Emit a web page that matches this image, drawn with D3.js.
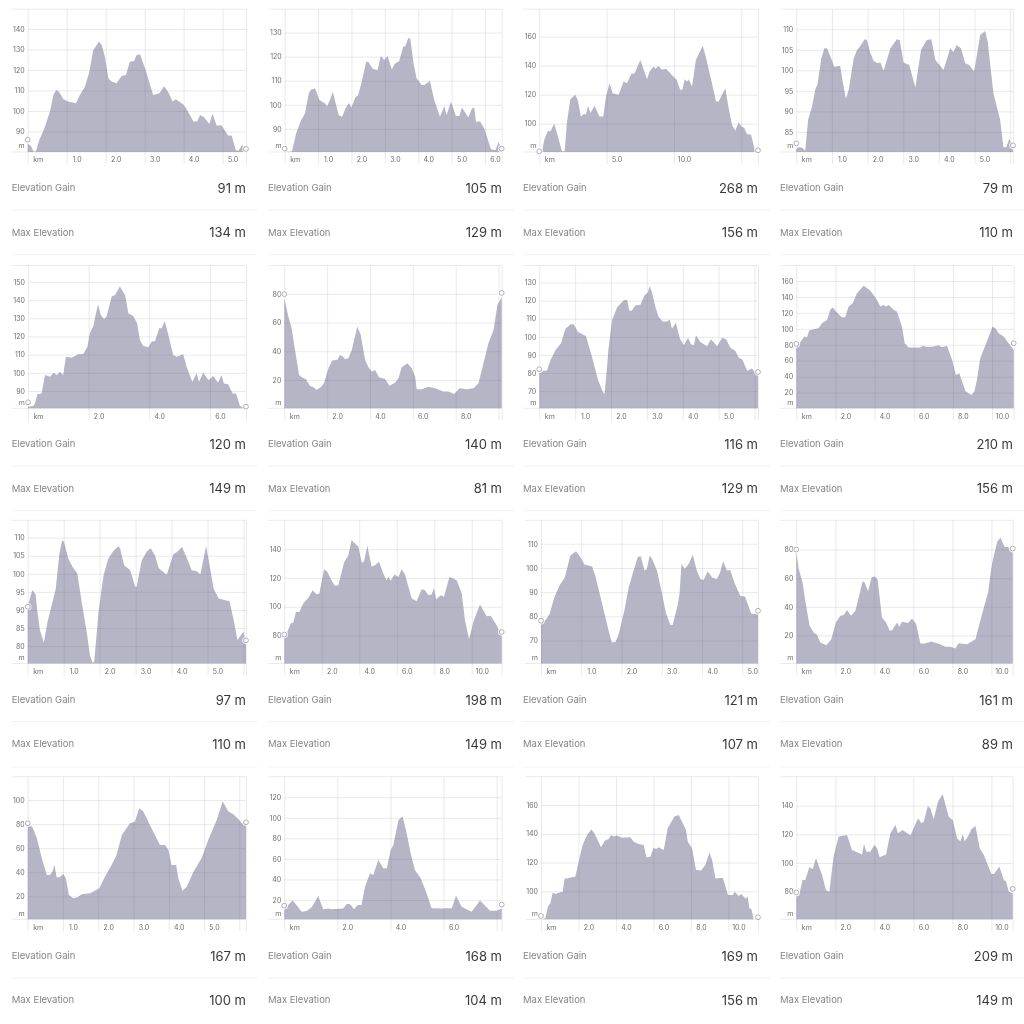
<!DOCTYPE html>
<html>
<head>
<meta charset="utf-8">
<script src="https://cdn.jsdelivr.net/npm/d3@7"></script>
<style>
  html, body { margin: 0; padding: 0; background: #fff; }
  svg { display: block; font-family: Inter, "Noto Sans", sans-serif; filter: blur(0.5px); }
  .grid line, .grid path { stroke: rgba(90, 90, 125, 0.13); stroke-width: 1; }
  .grid path { display: none; }
  .tick text { fill: #6d6d72; font-size: 7px; font-family: Inter, sans-serif; }
</style>
</head>
<body>
<svg id="chart" width="1024" height="1024"></svg>
<script>
// [km, elevation in m]
var profile1 = [[0,84],[.08,83],[.15,80.3],[.21,80.3],[.3,86],[.43,91.6],[.57,99.7],[.66,107.8],[.73,110.2],[.8,109.4],[.92,105.7],[1.04,104.6],[1.24,103.8],[1.34,107.8],[1.47,111.9],[1.58,119],[1.68,129.6],[1.83,133.9],[1.9,132],[1.98,126.4],[2.07,116],[2.15,114.4],[2.28,113.5],[2.41,117],[2.52,117.5],[2.62,124],[2.73,124.3],[2.79,127.2],[2.88,127.7],[3.01,120.8],[3.14,112.7],[3.22,107.8],[3.38,108.6],[3.5,112],[3.61,109],[3.72,104.6],[3.8,105.7],[4,103],[4.09,100.5],[4.25,94.9],[4.35,94.9],[4.42,98],[4.52,97],[4.66,93.6],[4.74,98.6],[4.85,92.8],[4.97,93],[5.14,88],[5.23,88],[5.34,80.8],[5.41,80.6],[5.5,83.5],[5.6,80.8]];
var profile2 = [[0,81.1],[.14,80.4],[.22,80.8],[.34,88],[.49,93.6],[.61,96.4],[.72,104.7],[.79,106.4],[.91,106.8],[1.04,102],[1.19,100.8],[1.27,99.4],[1.36,102.2],[1.44,105.4],[1.54,99.9],[1.62,95.7],[1.72,95],[1.82,98.5],[1.92,100.8],[2,98.9],[2.11,102.9],[2.2,104],[2.32,110.3],[2.44,117.9],[2.5,117.9],[2.63,115.1],[2.78,114.4],[2.88,120.3],[2.98,118.6],[3.08,120.3],[3.21,114.7],[3.29,116.9],[3.43,118.2],[3.55,124.2],[3.61,124.2],[3.7,127.6],[3.76,127.6],[3.86,117.2],[3.95,111],[4.1,108.2],[4.18,108.2],[4.35,109.9],[4.48,102],[4.65,95],[4.78,99.4],[4.85,95.7],[4.98,101.3],[5.13,95.4],[5.23,95.4],[5.31,98.9],[5.5,94.7],[5.61,98.5],[5.68,98.8],[5.73,92.9],[5.85,93.2],[5.98,90.1],[6.18,81.5],[6.31,81.1],[6.41,84.6],[6.5,81.1]];
var profile3 = [[0,80.5],[.2,80.5],[.37,89],[.64,95.2],[.82,94.7],[1.11,100],[1.31,93.6],[1.68,81],[1.88,81],[2.05,100.5],[2.3,116.9],[2.67,119.9],[2.85,116.5],[3.09,105],[3.34,106.9],[3.47,106.2],[3.61,112.4],[3.79,107.3],[4.11,112.4],[4.46,105],[4.75,105],[4.95,118.8],[5.22,127.9],[5.45,121],[5.89,119.9],[6.26,129],[6.51,127.9],[6.83,134.3],[7.08,134.8],[7.5,143.9],[8,130.7],[8.19,135.9],[8.49,139.4],[8.61,137.8],[8.86,139.8],[9.1,137.1],[9.41,137.8],[9.85,133.6],[10.2,130.2],[10.47,123.3],[10.64,123.8],[10.79,130.7],[10.97,129.1],[11.09,130.7],[11.34,125.6],[11.63,143.9],[12.13,153.8],[12.33,147.4],[12.82,127.9],[13.12,115.3],[13.32,115.3],[13.81,124.5],[14.06,110.8],[14.31,99.3],[14.55,95.2],[14.8,100.9],[15,98.2],[15.22,97],[15.42,92.9],[15.72,92.4],[15.97,83.3],[16.04,80.5],[16.24,80.5]];
var profile4 = [[0,80.9],[.08,81.3],[.18,81.1],[.25,80.4],[.33,87.9],[.44,91.1],[.53,95.2],[.6,96.8],[.7,102.9],[.79,105.4],[.86,105.4],[.98,102.9],[1.06,100.9],[1.23,101.1],[1.28,98.4],[1.39,93.1],[1.47,95.2],[1.61,102.9],[1.7,104.9],[1.79,105.9],[1.92,107.6],[1.98,107.4],[2.07,104.5],[2.17,102.3],[2.29,101.7],[2.36,101.9],[2.45,99.9],[2.64,105.4],[2.82,107.6],[2.9,107.4],[3.01,101.9],[3.17,101.3],[3.34,95.8],[3.5,105],[3.66,107.4],[3.79,107.6],[3.9,102.5],[4.04,101.1],[4.13,100.1],[4.32,105.4],[4.41,104.5],[4.5,106.2],[4.62,105.4],[4.74,101.7],[4.85,101.3],[4.99,99.7],[5.16,108.6],[5.3,109.6],[5.37,107],[5.53,94.4],[5.72,87.9],[5.81,81.3],[5.89,81.2],[5.98,83.4],[6.08,80.5]];
var profile5 = [[0,81.4],[.18,81.7],[.23,83.2],[.31,88.2],[.45,88.7],[.56,98.8],[.73,97.9],[.84,100.1],[.95,98.8],[1.05,100.6],[1.16,98.8],[1.25,108.9],[1.44,108.3],[1.66,110.2],[1.82,110.4],[1.96,114.4],[2.04,121.7],[2.15,125.4],[2.23,131.8],[2.31,137.7],[2.4,131.8],[2.51,129.6],[2.59,130.9],[2.76,141.9],[2.87,142.8],[3.03,147.4],[3.2,142.8],[3.31,132.8],[3.47,131.3],[3.6,127.2],[3.69,118.1],[3.8,114.8],[3.97,114],[4.08,117.2],[4.19,117.5],[4.33,124.5],[4.41,124.5],[4.51,128.5],[4.63,120.8],[4.79,109.8],[4.9,108.9],[5.12,110.2],[5.23,103.4],[5.42,95.1],[5.56,99.7],[5.64,95.1],[5.78,100.1],[5.95,96.1],[6.11,98.3],[6.27,94.6],[6.38,98.8],[6.46,94.2],[6.6,93.7],[6.75,88.7],[6.86,88.7],[6.99,81.7],[7.19,80.5]];
var profile6 = [[0,77],[.19,64.2],[.34,56],[.5,40.9],[.69,23.5],[.81,21.9],[1.01,20.5],[1.2,15.8],[1.36,14.9],[1.51,13],[1.7,14.9],[1.85,17.7],[2.06,28.1],[2.24,33.5],[2.48,34],[2.6,37.4],[2.73,36.3],[2.84,34.4],[2.99,35.1],[3.15,40.9],[3.41,57.2],[3.57,51.4],[3.77,34],[3.93,28.8],[4.08,25.8],[4.24,27],[4.42,21.9],[4.7,20.7],[4.91,16],[5.17,18.1],[5.33,21.2],[5.48,28.8],[5.75,31.6],[5.95,28.1],[6.11,22.3],[6.18,13.5],[6.42,13.5],[6.73,15.3],[7.04,14.2],[7.43,11.9],[7.66,11.9],[7.93,10.2],[8.18,14.2],[8.52,13.5],[8.83,14.2],[9.07,17.7],[9.3,31.6],[9.53,45.6],[9.77,54.9],[9.95,72.3],[10.15,77.7]];
var profile7 = [[0,79.7],[.09,81.2],[.21,81.2],[.31,87.1],[.45,92.6],[.61,96.6],[.73,104.5],[.87,106.9],[.96,106.9],[1.08,102.7],[1.3,100.5],[1.47,88.9],[1.64,76.1],[1.77,69.6],[1.82,68.3],[1.89,83.4],[1.93,93.5],[2.03,109.1],[2.17,116.4],[2.35,120.1],[2.45,120.5],[2.51,114.6],[2.57,114.2],[2.68,117.3],[2.82,117.7],[2.93,122.8],[3.02,124.3],[3.08,128],[3.14,124.7],[3.24,116.4],[3.33,110.9],[3.44,108.5],[3.56,108.5],[3.64,109.4],[3.7,104.5],[3.81,107.8],[3.92,99],[4.03,95.3],[4.15,99.5],[4.23,95.9],[4.31,95.3],[4.37,100.8],[4.49,97.2],[4.68,94.8],[4.79,98.6],[4.96,94.8],[5.1,99.5],[5.21,98.6],[5.33,94],[5.47,92.2],[5.56,88.5],[5.66,87.4],[5.8,81.2],[5.93,82.5],[6.1,78.8]];
var profile8 = [[0,76.9],[.2,82.8],[.41,90.3],[.55,89.5],[.66,97.8],[.89,99.5],[1.14,100.8],[1.31,107],[1.57,111.2],[1.74,123.8],[1.86,126.7],[2.08,120.4],[2.33,114.6],[2.5,114.6],[2.67,127.9],[2.88,132.1],[3.1,144.7],[3.44,153.9],[3.78,148],[4.12,136.3],[4.29,127.9],[4.46,130],[4.58,127.9],[4.72,130],[4.97,123.8],[5.14,121.7],[5.4,102.8],[5.54,81.9],[5.74,76.5],[6.34,76.5],[6.47,78.6],[6.68,77.3],[7.02,77.7],[7.27,79.4],[7.44,76.9],[7.7,78.6],[7.96,61],[8.16,42.2],[8.33,44.3],[8.64,22.1],[8.94,17.1],[9.1,21.3],[9.23,35.9],[9.4,63.1],[9.74,84],[10.03,102.8],[10.17,100.8],[10.34,94.5],[10.6,90.3],[10.85,81.9],[11.11,73.6]];
var profile9 = [[0,90.9],[.06,93.2],[.13,95.5],[.22,94.3],[.27,89.5],[.34,84.4],[.45,81],[.55,86.7],[.69,92.2],[.78,95.9],[.88,105.6],[.96,109.3],[1.01,108.8],[1.13,104.2],[1.25,101.9],[1.38,100.1],[1.5,92.2],[1.64,84],[1.73,77.5],[1.8,75.5],[1.85,75.7],[1.97,89.5],[2.11,99.6],[2.24,104.2],[2.38,106.3],[2.52,107.6],[2.57,107],[2.68,102.4],[2.85,101],[2.99,96.4],[3.03,96.4],[3.17,103.7],[3.31,106.2],[3.42,107.1],[3.54,105.1],[3.64,101.6],[3.82,100.1],[3.87,99.8],[4.05,105.4],[4.15,106],[4.29,107.4],[4.41,104.7],[4.56,101],[4.7,100.7],[4.8,99.8],[4.96,107.7],[5.05,102.8],[5.17,95.9],[5.31,93.2],[5.4,93],[5.49,92.7],[5.61,92.4],[5.74,86.7],[5.83,81.7],[6,84],[6.07,81.2]];
var profile10 = [[0,77.9],[.16,82.5],[.34,88.3],[.48,89],[.62,96.4],[.8,96.4],[1.01,102.2],[1.28,106.2],[1.51,111.5],[1.73,108.5],[1.87,109.2],[2.12,126.1],[2.3,124.2],[2.53,118],[2.7,114.5],[2.88,115],[3.19,130.7],[3.42,135.8],[3.59,146.2],[3.95,141.6],[4.13,130.7],[4.25,131.2],[4.43,142.3],[4.66,127.7],[4.84,128.8],[5.05,131.2],[5.28,123.1],[5.46,118.4],[5.55,120.7],[5.68,118],[5.87,122.4],[6.09,120.7],[6.26,126.1],[6.44,122.4],[6.62,113.8],[6.8,105.7],[7.06,103.8],[7.33,112.2],[7.51,111.5],[7.69,108],[7.86,108.5],[7.99,113.1],[8.1,105.2],[8.36,108],[8.52,106.9],[8.81,120.7],[9.2,118.4],[9.47,109.2],[9.64,90.6],[9.86,77.5],[10.09,89.5],[10.44,101.5],[10.8,93.4],[11.01,93.7],[11.33,87.2],[11.6,80.2]];
var profile11 = [[0,77.5],[.11,78.4],[.21,80.9],[.33,87.8],[.46,92.7],[.59,96.1],[.73,105.1],[.87,106.9],[.98,104.4],[1.08,101.4],[1.27,100.6],[1.35,96.8],[1.45,89.9],[1.56,82.3],[1.68,74],[1.76,69.2],[1.85,69.4],[1.93,72.6],[2.07,82.3],[2.18,92],[2.3,98.9],[2.41,104.7],[2.48,104.7],[2.57,98.9],[2.63,99.6],[2.7,105.1],[2.76,103.7],[2.88,98.9],[3,89.9],[3.1,81.6],[3.21,76.4],[3.27,76.4],[3.39,84.4],[3.44,89.2],[3.49,101.7],[3.57,99.6],[3.67,101.7],[3.77,105.5],[3.87,98.9],[3.96,95.4],[4.04,95],[4.14,98.6],[4.25,96.1],[4.37,95.4],[4.45,98.2],[4.52,102.8],[4.62,98.9],[4.7,99.2],[4.81,93.7],[4.95,88.5],[5.07,88.1],[5.22,81.2],[5.39,80.9]];
var profile12 = [[0,78.2],[.12,66.5],[.32,57.1],[.46,44.3],[.68,26.8],[.89,22.1],[1.06,20.5],[1.23,15.1],[1.54,13.2],[1.79,17.4],[2.03,29.1],[2.26,33.8],[2.43,34.3],[2.6,37.8],[2.8,33.8],[3.03,37.3],[3.2,46.6],[3.4,57.9],[3.5,57.1],[3.68,50.8],[3.85,60.2],[4.02,61.4],[4.17,58.8],[4.39,32.6],[4.6,29.1],[4.79,23.3],[4.91,23.7],[5.16,29.1],[5.28,26.1],[5.42,29.6],[5.73,28.6],[5.93,31.9],[6.14,27.9],[6.36,14.4],[6.58,14.4],[6.92,15.8],[7.38,13.9],[7.64,12.1],[7.9,12.1],[8.15,10.9],[8.32,14.6],[8.75,13.9],[9.18,17.4],[9.52,35],[9.83,50.1],[10.03,70],[10.29,85.2],[10.46,88.2],[10.68,81.7],[10.85,81.7],[11.09,77.5]];
var profile13 = [[0,79.3],[.13,77.9],[.26,68.2],[.4,51.6],[.54,37.7],[.63,37.7],[.7,40.5],[.76,46],[.82,35.8],[.9,35.8],[1.01,38.6],[1.08,35],[1.17,21.1],[1.29,18.3],[1.41,19.2],[1.53,21.7],[1.77,22.5],[2.03,26.6],[2.19,36.3],[2.38,46],[2.52,54.3],[2.67,71],[2.9,80.7],[3.04,82],[3.16,93.1],[3.28,90.4],[3.42,82],[3.56,73.7],[3.75,62.7],[3.89,62.7],[3.99,58.5],[4.08,46],[4.21,46],[4.27,35],[4.39,24.7],[4.51,28],[4.7,40.5],[4.93,51.6],[5.12,66.8],[5.36,83.4],[5.53,98.7],[5.69,90.4],[5.83,88.1],[5.95,84.8],[6.07,80.7],[6.19,82]];
var profile14 = [[0,10.3],[.15,15.1],[.31,19.4],[.46,15.1],[.65,8.6],[.84,9.3],[1.03,12.9],[1.16,18.4],[1.28,23.9],[1.37,17.4],[1.47,10.9],[1.66,11.6],[1.78,10.9],[2.22,11.6],[2.35,16.1],[2.47,16.1],[2.63,10.9],[2.76,15.1],[2.91,15.1],[3.04,33],[3.23,46],[3.35,44.4],[3.54,59],[3.73,50.8],[3.86,50.8],[4.01,68.7],[4.11,73.6],[4.3,97.9],[4.46,101.2],[4.61,84.9],[4.76,65.5],[4.92,49.2],[5.14,41.1],[5.36,26.5],[5.55,11.9],[5.93,11.6],[6.12,11.9],[6.31,11.9],[6.47,24.2],[6.68,13.5],[7.06,8.6],[7.37,19.4],[7.75,9.6],[8,9.6],[8.19,11.9]];
var profile15 = [[0,80.6],[.23,81.3],[.37,89.4],[.5,91.7],[.62,99.1],[.77,98.1],[.94,99.1],[1.16,99.8],[1.26,109],[1.39,109],[1.57,109.7],[1.83,110.2],[2.01,120.6],[2.22,132.2],[2.46,139.1],[2.69,143.1],[2.9,139.1],[3.2,130.6],[3.4,135.2],[3.61,136.3],[3.74,139.1],[3.88,138],[4.06,138.7],[4.32,137.3],[4.77,137.5],[4.95,134.5],[5.21,132.9],[5.48,132.2],[5.62,123.6],[5.84,124.1],[6.01,130.3],[6.14,129.4],[6.28,130.6],[6.55,128.7],[6.76,143.8],[7.12,151.9],[7.35,153],[7.74,142.6],[7.83,134.5],[8.06,129.9],[8.27,114.8],[8.54,114.4],[8.77,118.3],[8.99,126.9],[9.13,121.8],[9.31,109],[9.7,109.5],[9.98,97.5],[10.23,97.5],[10.34,99.8],[10.55,96.8],[10.69,98.1],[10.91,95.1],[11.03,96.3],[11.12,88.2],[11.23,87.5],[11.35,80.6],[11.58,80.6]];
var profile16 = [[0,76.5],[.15,77.7],[.32,88.1],[.46,88.1],[.67,97],[.84,95.8],[1.01,103.3],[1.32,91.6],[1.52,81.2],[1.69,80],[1.91,104.4],[2.17,118.4],[2.6,119.5],[2.85,109.1],[3.37,106],[3.47,113.3],[3.59,107.9],[3.79,107.9],[4,112.6],[4.14,110.2],[4.27,104],[4.6,106],[4.82,120.7],[5.08,126.5],[5.21,120.7],[5.45,123],[5.85,119.1],[6.24,131.2],[6.41,127.7],[6.53,128.8],[6.74,139.8],[6.87,138.1],[7.04,130.5],[7.26,142.8],[7.5,148.1],[7.81,132.3],[8.02,130],[8.24,117.2],[8.41,114.9],[8.53,120.2],[8.63,114.9],[8.8,118.4],[8.97,123.5],[9.18,125.8],[9.4,110.2],[9.61,105.6],[10,92.3],[10.12,92.3],[10.41,97.4],[10.63,88.1],[10.75,87],[10.89,80],[11.09,78.8]];

var profiles = [profile1, profile2, profile3, profile4, profile5, profile6, profile7, profile8,
  profile9, profile10, profile11, profile12, profile13, profile14, profile15, profile16];

var elevationGain = [91, 105, 268, 79, 120, 140, 116, 210, 97, 198, 121, 161, 167, 168, 169, 209];
var maxElevation = [134, 129, 156, 110, 149, 81, 129, 156, 110, 149, 107, 89, 100, 104, 156, 149];

var routeKm = [5.6, 6.5, 16.24, 6.08, 7.19, 10.15, 6.1, 11.11, 6.07, 11.6, 5.39, 11.09, 6.19, 8.19, 11.58, 11.09];
var elevationFloor = [80, 80.4, 80.5, 80.1, 80.5, 0.2, 60.5, 0.3, 75.2, 60.6, 60.5, 0.4, 0.9, 1.2, 80.6, 60.7];
var elevationCeil = [149.6, 139.7, 178.9, 114.9, 159, 99.8, 139.4, 179.4, 114.8, 160, 119.7, 100.4, 119.4, 140, 179.6, 160.2];

var kmTicks = [
  [1, 2, 3, 4, 5], [1, 2, 3, 4, 5, 6], [5, 10, 15], [1, 2, 3, 4, 5, 6],
  [2, 4, 6], [2, 4, 6, 8, 10], [1, 2, 3, 4, 5, 6], [2, 4, 6, 8, 10],
  [1, 2, 3, 4, 5, 6], [2, 4, 6, 8, 10], [1, 2, 3, 4, 5], [2, 4, 6, 8, 10],
  [1, 2, 3, 4, 5, 6], [2, 4, 6, 8], [2, 4, 6, 8, 10], [2, 4, 6, 8, 10]
];
// last tick of these panels has its line but no label in the picture
var unlabeledKm = [null, null, 15, 6, null, 10, 6, null, 6, null, null, null, 6, 8, null, null];
var elevationTicks = [
  [90, 100, 110, 120, 130, 140], [90, 100, 110, 120, 130], [100, 120, 140, 160], [85, 90, 95, 100, 105, 110],
  [90, 100, 110, 120, 130, 140, 150], [20, 40, 60, 80], [70, 80, 90, 100, 110, 120, 130], [20, 40, 60, 80, 100, 120, 140, 160],
  [80, 85, 90, 95, 100, 105, 110], [80, 100, 120, 140], [70, 80, 90, 100, 110], [20, 40, 60, 80],
  [20, 40, 60, 80, 100], [20, 40, 60, 80, 100, 120], [100, 120, 140, 160], [80, 100, 120, 140]
];

// elevation of the round start and end markers, they sit a bit off the fill
var startMarker = [86, 81.8, 81, 82.2, 83.8, 79.8, 82.1, 81.1, 90.9, 80.7, 78.2, 80, 80.7, 14.5, 82.9, 79.5];
var endMarker = [81.5, 81.8, 81.7, 81.7, 81.4, 80.7, 80.6, 81.9, 81.6, 82.5, 82.3, 80.7, 81.5, 15.5, 82, 81.9];

// layout
var plotLeft = [27.7, 284.7, 539.3, 796.3, 28, 284.3, 539.3, 796.3, 27.7, 284.3, 541, 796.3, 27.7, 284.3, 541, 796.3];
var plotRight = [246, 501.7, 758, 1013, 246, 501.7, 758, 1013.7, 246, 501.7, 758, 1012.7, 246, 501.7, 758, 1012.7];
var rowTop = [9.2, 265.5, 520.3, 776.7];
var rowBase = [152, 408.3, 663.5, 919.3];
var gainTextY = [188, 444, 700, 956];
var maxTextY = [232.5, 488.5, 744, 1000];
var midRuleY = [210, 466, 721.5, 978];
var endRuleY = [254.5, 510.5, 767];
var colText = [11.7, 268, 523, 780];
var colValue = [246, 502, 758, 1013];
var colRuleEnd = [257, 514, 770, 1024];
var gridColor = 'rgba(90, 90, 125, 0.13)';

var svg = d3.select('#chart');

var drawPanel = function(i) {
  var col = i % 4;
  var row = Math.floor(i / 4);
  var left = plotLeft[i], right = plotRight[i];
  var top = rowTop[row], base = rowBase[row];

  var x = d3.scaleLinear().domain([0, routeKm[i]]).range([left, right]);
  var y = d3.scaleLinear().domain([elevationFloor[i], elevationCeil[i]]).range([base, top]);
  var g = svg.append('g');

  var area = d3.area()
    .x(function(d) { return x(d[0]); })
    .y0(base)
    .y1(function(d) { return y(d[1]); });

  g.append('path')
    .datum(profiles[i])
    .attr('d', area)
    .attr('fill', '#b5b5c5');

  // grid goes over the fill, the lines are see-through so they get darker there
  var kmValues = [0].concat(kmTicks[i], [routeKm[i]]);
  var xAxis = d3.axisBottom(x)
    .tickValues(kmValues)
    .tickSize(base - top + 12)
    .tickFormat(function(d) {
      if (d === 0) return 'km';
      if (d === routeKm[i] || d === unlabeledKm[i]) return '';
      return d.toFixed(1);
    });
  var xg = g.append('g')
    .attr('class', 'grid')
    .attr('transform', 'translate(0,' + top + ')')
    .call(xAxis);
  xg.selectAll('text')
    .attr('x', 10)
    .attr('y', base - top + 5.5)
    .attr('dy', '0.71em');

  var yAxis = d3.axisLeft(y)
    .tickValues(elevationTicks[i])
    .tickSize(-(right - left))
    .tickPadding(3);
  g.append('g')
    .attr('class', 'grid')
    .attr('transform', 'translate(' + left + ',0)')
    .call(yAxis);

  [top, base].forEach(function(yPos) {
    g.append('line')
      .attr('x1', left - 16).attr('x2', right)
      .attr('y1', yPos).attr('y2', yPos)
      .attr('stroke', gridColor);
  });

  g.append('text')
    .attr('x', left - 3)
    .attr('y', base - 6)
    .attr('dy', '0.32em')
    .attr('text-anchor', 'end')
    .attr('fill', '#6d6d72')
    .attr('font-size', 7)
    .text('m');

  // start / end markers, with a pale halo around them
  [[0, startMarker[i]], [routeKm[i], endMarker[i]]].forEach(function(m) {
    g.append('circle')
      .attr('cx', x(m[0]))
      .attr('cy', y(m[1]))
      .attr('r', 3.8)
      .attr('fill', '#fff')
      .attr('fill-opacity', 0.75);
    g.append('circle')
      .attr('cx', x(m[0]))
      .attr('cy', y(m[1]))
      .attr('r', 2.4)
      .attr('fill', '#fff')
      .attr('stroke', '#9c9ca6')
      .attr('stroke-width', 0.8);
  });

  // stats underneath
  var stat = function(label, value, yPos) {
    g.append('text')
      .attr('x', colText[col])
      .attr('y', yPos)
      .attr('dy', '0.35em')
      .attr('fill', '#85858a')
      .attr('font-size', 9.5)
      .text(label);
    g.append('text')
      .attr('x', colValue[col])
      .attr('y', yPos)
      .attr('dy', '0.35em')
      .attr('text-anchor', 'end')
      .attr('fill', '#38383c')
      .attr('font-size', 13)
      .text(value + ' m');
  };
  stat('Elevation Gain', elevationGain[i], gainTextY[row]);
  stat('Max Elevation', maxElevation[i], maxTextY[row]);

  g.append('line')
    .attr('x1', colText[col]).attr('x2', colRuleEnd[col])
    .attr('y1', midRuleY[row]).attr('y2', midRuleY[row])
    .attr('stroke', '#f0f0f0');
  if (row < endRuleY.length) {
    g.append('line')
      .attr('x1', colText[col]).attr('x2', colRuleEnd[col])
      .attr('y1', endRuleY[row]).attr('y2', endRuleY[row])
      .attr('stroke', '#f4f4f4');
  }
};

d3.range(16).forEach(drawPanel);
</script>
</body>
</html>
